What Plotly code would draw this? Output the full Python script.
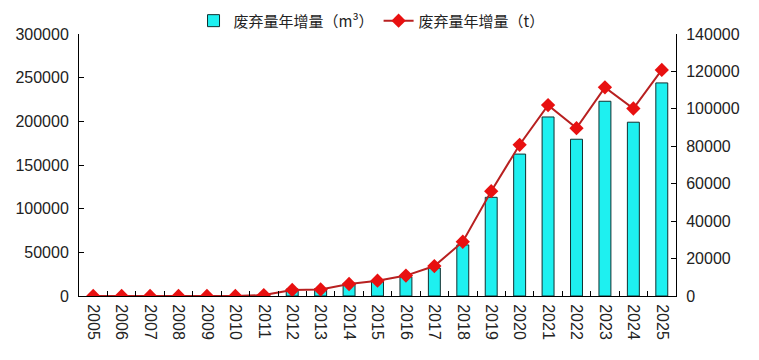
import plotly.graph_objects as go

years = [str(y) for y in range(2005, 2026)]
volume_m3 = [0, 0, 0, 0, 0, 0, 1000, 8000, 8500, 14500, 17500, 22000, 32000,
             58500, 113000, 162500, 205000, 179500, 223000, 199000, 244000]
weight_t = [0, 0, 0, 0, 0, 0, 500, 3200, 3500, 6400, 8200, 10900, 16000,
            29000, 56000, 80800, 102000, 89700, 111500, 100200, 120800]
left_ticks = [0, 50000, 100000, 150000, 200000, 250000, 300000]
right_ticks = [0, 20000, 40000, 60000, 80000, 100000, 120000, 140000]

name_bar = "废弃量年增量（m³）"
name_line = "废弃量年增量（t）"

fig = go.Figure()
fig.add_trace(go.Bar(
    x=years, y=volume_m3, name=name_bar, width=0.42,
    marker=dict(color="#1ef0f0", line=dict(color="#103030", width=1)),
))
fig.add_trace(go.Scatter(
    x=years, y=weight_t, name=name_line, yaxis="y2", mode="lines+markers",
    line=dict(color="#b82020", width=2),
    marker=dict(symbol="diamond", size=11, color="#e81010"),
))

axis_font = dict(family="Liberation Sans, Arial, sans-serif", size=16, color="#222")
fig.update_layout(
    width=759, height=360,
    margin=dict(l=71, r=91, t=26, b=72, autoexpand=False),
    paper_bgcolor="white", plot_bgcolor="white",
    showlegend=True,
    legend=dict(orientation="h", x=0.49, xanchor="center", y=1.05, yanchor="middle",
                font=dict(family="Noto Sans CJK SC", size=15, color="#222"),
                itemwidth=30, bgcolor="rgba(0,0,0,0)"),
    xaxis=dict(type="category", range=[-0.5, len(years) - 0.5], tickangle=90,
               tickson="boundaries", ticks="inside", ticklabelstandoff=4,
               ticklen=5, tickcolor="#000", showline=True, linecolor="#000", linewidth=1,
               showgrid=False, tickfont=axis_font, zeroline=False, automargin=False),
    yaxis=dict(range=[0, 300000], tickvals=left_ticks, ticktext=[str(v) for v in left_ticks],
               ticks="inside", ticklen=5, tickcolor="#000", showline=True, linecolor="#000",
               linewidth=1, showgrid=False, zeroline=False, tickfont=axis_font,
               ticklabelstandoff=6, automargin=False),
    yaxis2=dict(range=[0, 140000], tickvals=right_ticks, ticktext=[str(v) for v in right_ticks],
                overlaying="y", side="right", ticks="inside", ticklen=5, tickcolor="#000",
                showline=True, linecolor="#000", linewidth=1, showgrid=False, zeroline=False,
                tickfont=axis_font, ticklabelstandoff=6, automargin=False),
)

fig.write_html("out.html")
